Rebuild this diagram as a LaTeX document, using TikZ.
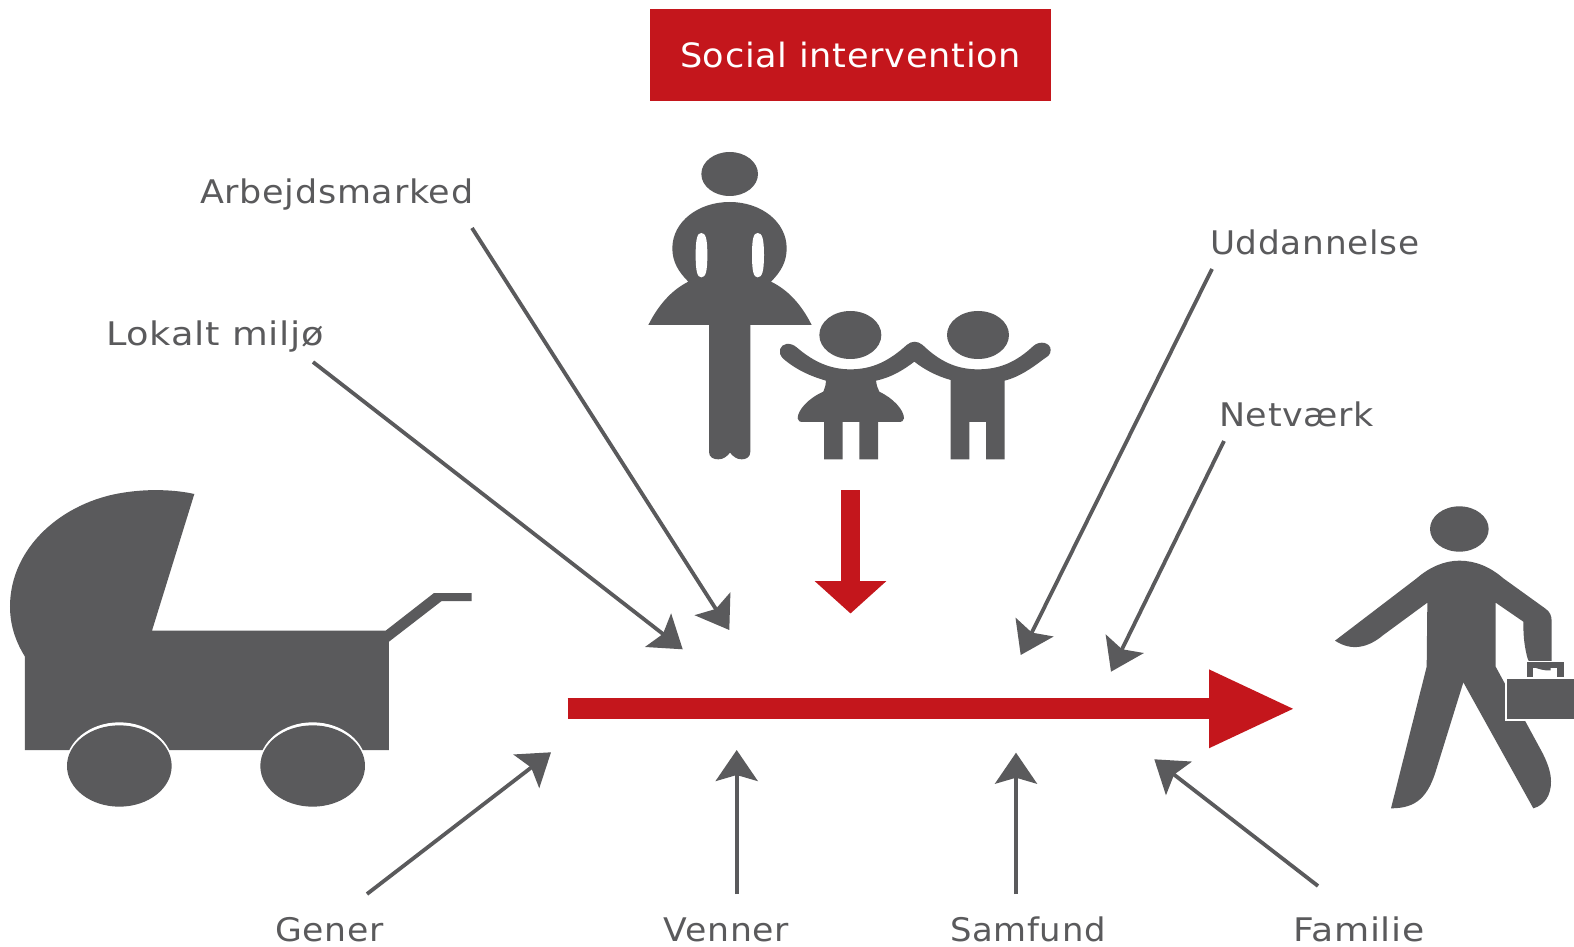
\documentclass[tikz,border=0pt]{standalone}
\usepackage{graphicx}
\usepackage{fontspec}
\setmainfont[LetterSpace=2]{DejaVu Sans}
\usetikzlibrary{arrows.meta}
\definecolor{ink}{HTML}{5A5A5C}
\definecolor{brand}{HTML}{C4161C}
\newcommand{\fitw}[2]{\resizebox{#1pt}{\height}{#2}}
\tikzset{
  label text/.style={text=ink,anchor=base west,inner sep=0pt,font=\fontsize{32.5}{36}\selectfont},
  influence/.style={draw=ink,line width=3.8pt,-{Stealth[length=31pt,width=42pt,inset=6pt]}},
  shapefill/.style={fill=ink,draw=none},
  holefill/.style={fill=white,draw=none},
  zoomA/.style={shift={(640,140)},scale=0.33333},
  zoomB/.style={shift={(0,480)},scale=0.33333},
  zoomC/.style={shift={(1320,495)},scale=0.33333}
}
\begin{document}
\begin{tikzpicture}[x=1pt,y=-1pt]
\useasboundingbox (0,0) rectangle (1574,947);
\fill[white] (0,0) rectangle (1574,947);

% title
\node[name=title,fill=brand,text=white,minimum width=401pt,minimum height=92pt,inner sep=0pt,
      font=\fontsize{33.5}{36}\selectfont] at (850.5,55) {\fitw{341}{Social intervention}};

% mother
\begin{scope}[zoomA]
\fill[shapefill] (269,102) ellipse [x radius=85,y radius=66];
\fill[shapefill] (25,555) .. controls (55,495) and (95,450) .. (145,425)
  .. controls (115,395) and (97,365) .. (97,325)
  .. controls (97,245) and (175,186) .. (269,186)
  .. controls (363,186) and (440,245) .. (440,325)
  .. controls (440,365) and (423,395) .. (393,425)
  .. controls (445,450) and (485,495) .. (515,555)
  -- (331,555) -- (331,935)
  .. controls (331,952) and (318,958) .. (305,958)
  .. controls (290,958) and (280,950) .. (270,938)
  .. controls (260,950) and (250,958) .. (235,958)
  .. controls (220,958) and (207,952) .. (207,935)
  -- (207,555) -- cycle;
\fill[holefill] (184,279) .. controls (172,279) and (167,295) .. (167,345)
  .. controls (167,395) and (172,412) .. (184,412)
  .. controls (197,412) and (202,395) .. (202,345)
  .. controls (202,295) and (197,279) .. (184,279) -- cycle;
\fill[holefill] (353,279) .. controls (341,279) and (336,295) .. (336,345)
  .. controls (336,395) and (341,412) .. (353,412)
  .. controls (366,412) and (372,395) .. (372,345)
  .. controls (372,295) and (366,279) .. (353,279) -- cycle;
% children
\fill[shapefill] (631,585) ellipse [x radius=93,y radius=72];
\fill[shapefill] (1014,585) ellipse [x radius=93,y radius=72];
\fill[shapefill] (470,622) .. controls (520,665) and (570,688) .. (631,688)
  .. controls (695,688) and (745,665) .. (800,615)
  .. controls (815,602) and (832,602) .. (848,615)
  .. controls (900,665) and (950,688) .. (1014,688)
  .. controls (1080,688) and (1130,665) .. (1180,618)
  .. controls (1200,600) and (1232,608) .. (1232,630)
  .. controls (1232,645) and (1222,650) .. (1210,658)
  .. controls (1175,685) and (1135,712) .. (1094,722)
  -- (1094,958) -- (1038,958) -- (1038,846) -- (988,846) -- (988,958) -- (932,958) -- (932,720)
  .. controls (890,708) and (855,690) .. (823,665)
  .. controls (790,690) and (755,712) .. (708,722)
  .. controls (710,735) and (712,745) .. (718,755)
  .. controls (760,775) and (792,810) .. (792,835)
  .. controls (792,843) and (785,846) .. (775,846)
  -- (714,846) -- (714,958) -- (658,958) -- (658,846) -- (608,846) -- (608,958) -- (552,958) -- (552,846)
  -- (490,846) .. controls (480,846) and (473,843) .. (473,835)
  .. controls (473,810) and (505,775) .. (550,755)
  .. controls (555,745) and (557,735) .. (558,722)
  .. controls (510,708) and (470,690) .. (432,658)
  .. controls (420,648) and (418,638) .. (420,628)
  .. controls (425,610) and (450,605) .. (470,622) -- cycle;
\end{scope}

% pram
\begin{scope}[zoomB]
\fill[shapefill] (583,42) .. controls (530,30) and (450,25) .. (370,38)
  .. controls (190,65) and (30,200) .. (30,380)
  .. controls (30,440) and (50,490) .. (75,530)
  -- (75,810) -- (1167,810) -- (1167,485) -- (1325,363) -- (1415,363) -- (1415,339) -- (1302,339)
  -- (1157,452) -- (456,452) -- cycle;
\fill[holefill] (358,858) ellipse [x radius=161,y radius=131];
\fill[holefill] (938,858) ellipse [x radius=161,y radius=131];
\fill[shapefill] (358,858) ellipse [x radius=157,y radius=122];
\fill[shapefill] (938,858) ellipse [x radius=157,y radius=122];
\end{scope}

% walking adult
\begin{scope}[zoomC]
\fill[shapefill] (418,102) ellipse [x radius=88,y radius=68];
\fill[shapefill] (45,437) -- (290,250)
  .. controls (330,215) and (375,197) .. (418,197)
  .. controls (465,197) and (510,215) .. (550,250)
  -- (675,340) .. controls (690,350) and (695,362) .. (695,380)
  -- (695,505) .. controls (695,520) and (685,530) .. (665,527)
  .. controls (640,520) and (625,505) .. (620,480)
  .. controls (612,445) and (610,420) .. (610,380)
  -- (527,323) -- (527,515) -- (660,760)
  .. controls (685,805) and (693,835) .. (693,860)
  .. controls (693,900) and (675,930) .. (640,940)
  -- (430,562) -- (350,820)
  .. controls (325,905) and (290,940) .. (213,940)
  -- (320,515) -- (322,323) -- (190,420)
  .. controls (145,458) and (95,470) .. (45,437) -- cycle;
\fill[holefill] (618,498) rectangle (734,560);
\fill[shapefill] (621,501) rectangle (731,560);
\fill[holefill] (640,518) rectangle (712,552);
\fill[shapefill] (640,516) .. controls (655,522) and (675,528) .. (692,526) -- (692,516) -- cycle;
\fill[holefill] (555,547) rectangle (770,677);
\fill[shapefill] (561,553) rectangle (770,672);
\end{scope}

% intervention arrow
\coordinate (ivS) at (850.5,490);
\coordinate (ivE) at (850.5,613.5);
\draw[brand,line width=19pt,-{Triangle[length=32.5pt,width=70pt]}] (ivS) -- (ivE);

% main arrow
\coordinate (mainS) at (567.7,708.8);
\coordinate (mainE) at (1295.7,708.8);
\draw[brand,line width=21pt,-{Triangle[length=86.7pt,width=72pt]}] (mainS) -- (mainE);

% labels
\node[label text] (arb) at (200,204) {\fitw{273}{Arbejdsmarked}};
\node[label text] (lok) at (106,345) {\fitw{218}{Lokalt miljø}};
\node[label text] (udd) at (1210,254) {\fitw{209}{Uddannelse}};
\node[label text] (net) at (1219,426) {\fitw{155}{Netværk}};
\node[label text] (gen) at (275,941) {\fitw{108.5}{Gener}};
\node[label text] (ven) at (663.5,941) {\fitw{125.5}{Venner}};
\node[label text] (sam) at (950,941) {\fitw{155.5}{Samfund}};
\node[label text] (fam) at (1293,941) {\fitw{131.5}{Familie}};

% connector ends
\coordinate (arbS) at (472,228);  \coordinate (arbE) at (729.3,630);
\coordinate (lokS) at (313,362);  \coordinate (lokE) at (682.7,649.3);
\coordinate (uddS) at (1212,269); \coordinate (uddE) at (1020.7,655);
\coordinate (netS) at (1224,441); \coordinate (netE) at (1111,671.7);
\coordinate (genS) at (367,894);  \coordinate (genE) at (551,752.3);
\coordinate (venS) at (736.7,894);\coordinate (venE) at (736.7,750);
\coordinate (samS) at (1016,894); \coordinate (samE) at (1016,752.7);
\coordinate (famS) at (1318,886); \coordinate (famE) at (1154.3,759.3);
\foreach \a in {arb,lok,udd,net,gen,ven,sam,fam}{
  \draw[influence] (\a S) -- (\a E);
}
\end{tikzpicture}
\end{document}
